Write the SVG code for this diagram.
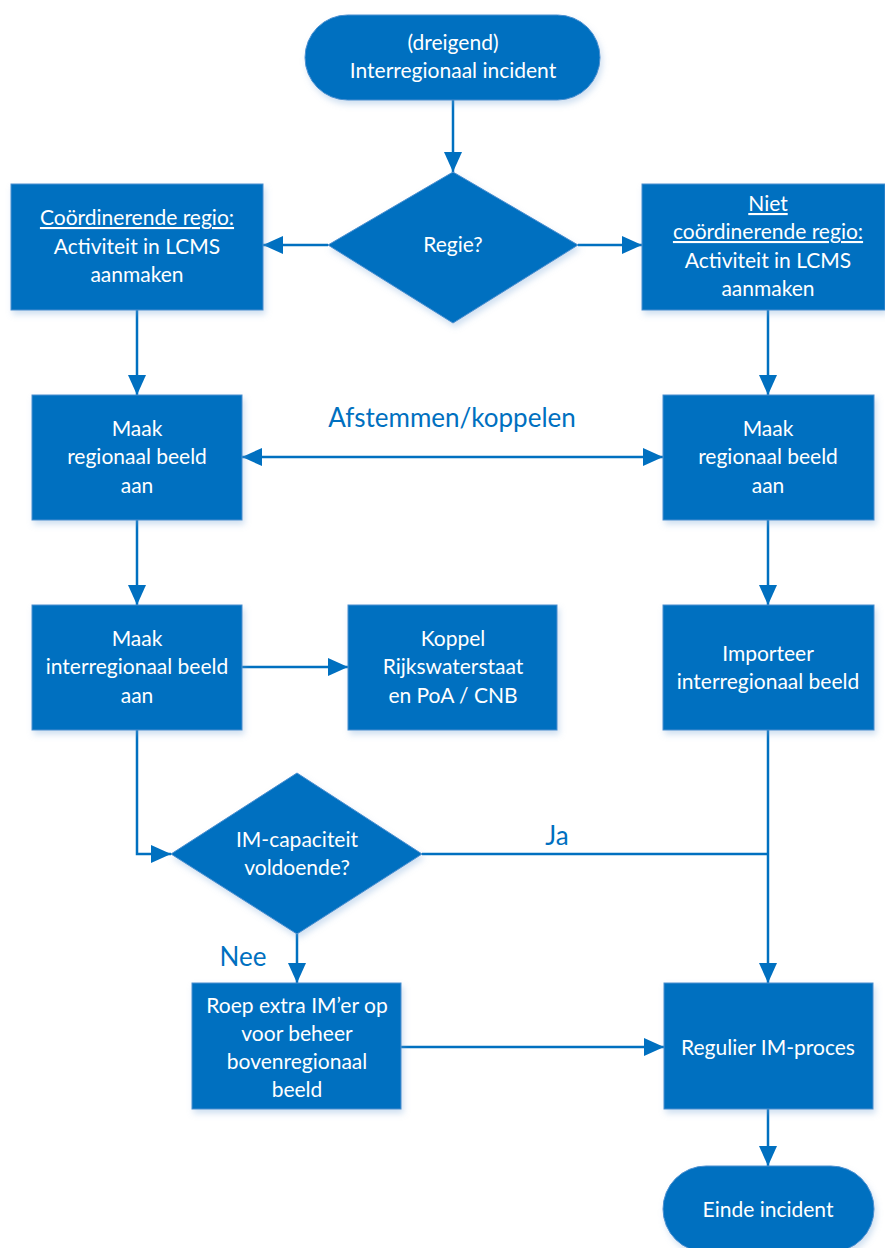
<svg xmlns="http://www.w3.org/2000/svg" width="885" height="1248" viewBox="0 0 885 1248">
<style>
.n{fill:#0070C0;stroke:#4A8FD0;stroke-width:1;filter:url(#sh)}
.t{font-family:Lato,"Liberation Sans",sans-serif;font-size:21px;fill:#fff;text-anchor:middle}
.u{text-decoration:underline}
.l{font-family:Lato,"Liberation Sans",sans-serif;font-size:26px;fill:#0070C0;text-anchor:middle}
.c{fill:none;stroke:#0070C0;stroke-width:2.5}
</style>
<defs>
<filter id="sh" x="-10%" y="-10%" width="130%" height="130%">
<feDropShadow dx="2" dy="4" stdDeviation="3" flood-color="#7aa6d6" flood-opacity="0.35"/>
</filter>
<marker id="a" markerUnits="userSpaceOnUse" markerWidth="20" markerHeight="20" viewBox="0 0 20 20" refX="20" refY="10" orient="auto-start-reverse">
<path d="M0,1 L20,10 L0,19 Z" fill="#0070C0"/>
</marker>
</defs>
<rect width="885" height="1248" fill="#fff"/>
<g id="connectors">
<line class="c" x1="453" y1="100" x2="453" y2="172" marker-end="url(#a)"/>
<line class="c" x1="328" y1="245" x2="263" y2="245" marker-end="url(#a)"/>
<line class="c" x1="578" y1="245" x2="642" y2="245" marker-end="url(#a)"/>
<line class="c" x1="137" y1="310" x2="137" y2="395" marker-end="url(#a)"/>
<line class="c" x1="768" y1="310" x2="768" y2="395" marker-end="url(#a)"/>
<line class="c" x1="242" y1="457" x2="663" y2="457" marker-start="url(#a)" marker-end="url(#a)"/>
<line class="c" x1="137" y1="520" x2="137" y2="605" marker-end="url(#a)"/>
<line class="c" x1="768" y1="520" x2="768" y2="605" marker-end="url(#a)"/>
<line class="c" x1="242" y1="667" x2="348" y2="667" marker-end="url(#a)"/>
<polyline class="c" points="137,730 137,854 171,854" marker-end="url(#a)"/>
<line class="c" x1="422" y1="854" x2="768" y2="854"/>
<line class="c" x1="768" y1="730" x2="768" y2="983" marker-end="url(#a)"/>
<line class="c" x1="297" y1="934" x2="297" y2="983" marker-end="url(#a)"/>
<line class="c" x1="401" y1="1047" x2="664" y2="1047" marker-end="url(#a)"/>
<line class="c" x1="768" y1="1109" x2="768" y2="1166" marker-end="url(#a)"/>
<text class="l" x="452" y="427">Afstemmen/koppelen</text>
<text class="l" x="557" y="845">Ja</text>
<text class="l" x="243" y="966">Nee</text>
</g>
<g id="start">
<rect class="n" x="305" y="15" width="295" height="85" rx="42.5"/>
<text class="t" x="453" y="50">(dreigend)</text>
<text class="t" x="453" y="78">Interregionaal incident</text>
</g>
<g id="regie">
<polygon class="n" points="453,172 578,245 453,323 328,245"/>
<text class="t" x="453" y="252">Regie?</text>
</g>
<g id="coord">
<rect class="n" x="11" y="184" width="252" height="126"/>
<text class="t u" x="137" y="225">Coördinerende regio:</text>
<text class="t" x="137" y="254">Activiteit in LCMS</text>
<text class="t" x="137" y="282">aanmaken</text>
</g>
<g id="nietcoord">
<rect class="n" x="642" y="184" width="243" height="126"/>
<text class="t u" x="768" y="211">Niet</text>
<text class="t u" x="768" y="239">coördinerende regio:</text>
<text class="t" x="768" y="268">Activiteit in LCMS</text>
<text class="t" x="768" y="296">aanmaken</text>
</g>
<g id="regbeeldL">
<rect class="n" x="32" y="395" width="210" height="125"/>
<text class="t" x="137" y="436">Maak</text>
<text class="t" x="137" y="464">regionaal beeld</text>
<text class="t" x="137" y="493">aan</text>
</g>
<g id="regbeeldR">
<rect class="n" x="663" y="395" width="211" height="125"/>
<text class="t" x="768" y="436">Maak</text>
<text class="t" x="768" y="464">regionaal beeld</text>
<text class="t" x="768" y="493">aan</text>
</g>
<g id="interbeeld">
<rect class="n" x="32" y="605" width="210" height="125"/>
<text class="t" x="137" y="646">Maak</text>
<text class="t" x="137" y="674">interregionaal beeld</text>
<text class="t" x="137" y="703">aan</text>
</g>
<g id="koppel">
<rect class="n" x="348" y="605" width="209" height="125"/>
<text class="t" x="453" y="646">Koppel</text>
<text class="t" x="453" y="674">Rijkswaterstaat</text>
<text class="t" x="453" y="703">en PoA / CNB</text>
</g>
<g id="importeer">
<rect class="n" x="663" y="605" width="211" height="125"/>
<text class="t" x="768" y="661">Importeer</text>
<text class="t" x="768" y="689">interregionaal beeld</text>
</g>
<g id="imcap">
<polygon class="n" points="297,773 422,854 297,934 171,854"/>
<text class="t" x="297" y="847">IM-capaciteit</text>
<text class="t" x="297" y="875">voldoende?</text>
</g>
<g id="roep">
<rect class="n" x="192" y="983" width="209" height="126"/>
<text class="t" x="297" y="1013">Roep extra IM’er op</text>
<text class="t" x="297" y="1041">voor beheer</text>
<text class="t" x="297" y="1069">bovenregionaal</text>
<text class="t" x="297" y="1097">beeld</text>
</g>
<g id="regulier">
<rect class="n" x="664" y="983" width="209" height="126"/>
<text class="t" x="768" y="1055">Regulier IM-proces</text>
</g>
<g id="einde">
<rect class="n" x="663" y="1166" width="211" height="86" rx="43"/>
<text class="t" x="768" y="1217">Einde incident</text>
</g>
</svg>
